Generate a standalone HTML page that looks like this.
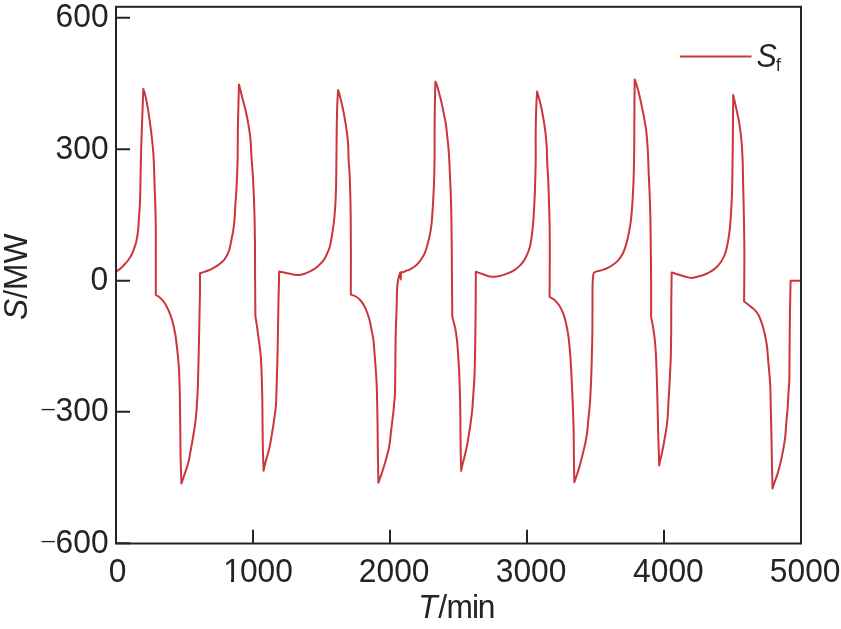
<!DOCTYPE html>
<html><head><meta charset="utf-8"><title>S/MW vs T/min</title>
<style>
html,body{margin:0;padding:0;background:#fff;}
body{width:841px;height:629px;overflow:hidden;position:relative;}
svg{position:absolute;left:0;top:0;will-change:transform;}
text{font-family:"Liberation Sans",Arial,sans-serif;font-size:32px;fill:#272324;}
.it{font-style:italic;}
.sub{font-size:18px;}
.neg{font-family:"DejaVu Sans",sans-serif;font-weight:200;font-size:33px;}
</style></head><body>
<svg width="841" height="629" viewBox="0 0 841 629">
<g id="curve" fill="none" stroke="#cc3539" stroke-width="2" stroke-linejoin="round" stroke-linecap="round">
<path d="M116.5,271.4C117.83,270.43,119.2,269.62,120.5,268.5C121.91,267.28,123.35,265.63,124.6,264.3C125.69,263.14,126.66,262.18,127.6,261C128.57,259.78,129.48,258.48,130.3,257.1C131.15,255.66,131.9,254.11,132.6,252.5C133.34,250.79,133.99,248.88,134.6,247.1C135.19,245.38,135.75,243.8,136.2,242C136.7,240.02,137.06,237.91,137.4,235.7C137.77,233.27,138.06,230.7,138.3,228C138.57,225.03,138.67,222.06,138.9,218.6C139.19,214.33,139.67,209.07,139.9,204.3C140.13,199.54,140.2,194.34,140.3,190C140.39,186.37,140.43,183.34,140.5,180C140.57,176.64,140.62,173.77,140.7,169.9C140.81,164.66,140.93,157.57,141.1,151.4C141.27,145.23,141.47,139.49,141.7,132.9C141.96,125.35,142.32,116.28,142.6,108.6C142.85,101.69,143.07,95.47,143.3,88.9C143.87,90.7,144.42,92.05,145,94.3C145.93,97.91,147.07,103.82,147.9,108.6C148.73,113.36,149.33,117.92,150,122.9C150.73,128.34,151.5,134.29,152.1,140C152.7,145.69,153.21,150.63,153.6,157.1C154.11,165.55,154.28,177.39,154.6,186.4C154.88,194.12,155.2,200.74,155.4,207.9C155.6,215.04,155.73,221.84,155.8,229.3C155.88,237.47,155.8,245.49,155.8,255C155.8,266.86,155.8,281.67,155.8,295C157,295.73,158.27,296.31,159.4,297.2C160.61,298.15,161.76,299.39,162.8,300.6C163.83,301.8,164.73,302.97,165.6,304.4C166.59,306.03,167.37,307.73,168.3,309.9C169.58,312.87,171.16,316.8,172.3,320.7C173.58,325.09,174.61,330.36,175.4,335C176.14,339.34,176.49,343.23,177,347.7C177.57,352.7,178.2,358.29,178.6,363.6C179,368.9,179.19,373.86,179.4,379.5C179.64,385.9,179.76,392.6,179.9,400C180.07,408.74,180.18,419.08,180.3,428.6C180.42,438.08,180.41,447.7,180.6,457C180.78,465.99,181.13,474.67,181.4,483.5C181.83,482.33,182.23,481.33,182.7,480C183.31,478.25,184.01,475.97,184.7,473.9C185.41,471.74,186.21,469.54,186.9,467.3C187.61,465.01,188.35,462.67,188.9,460.3C189.45,457.91,189.76,455.41,190.2,453C190.63,450.64,191.08,448.33,191.5,446C191.91,443.69,192.28,441.56,192.7,439.1C193.18,436.28,193.73,433.03,194.2,430C194.66,426.99,195.12,424.22,195.5,421C195.94,417.29,196.3,412.92,196.6,409C196.89,405.26,197.09,401.82,197.3,398C197.53,393.85,197.73,389.76,197.9,385C198.11,379.22,198.22,372.93,198.4,365.8C198.62,356.85,198.89,345.16,199.1,335.5C199.29,326.63,199.44,317.98,199.6,310C199.74,302.93,199.94,296.37,200,290C200.06,284.18,200,278.87,200,273.3C201.67,272.73,203.35,272.19,205,271.6C206.62,271.02,208.23,270.49,209.8,269.8C211.4,269.1,212.95,268.32,214.5,267.4C216.12,266.43,217.74,265.33,219.3,264.1C220.94,262.81,222.74,261.42,224.1,259.8C225.44,258.21,226.51,256.25,227.4,254.5C228.2,252.92,228.72,251.68,229.3,249.8C230.11,247.16,230.74,243.29,231.4,240C232.07,236.69,232.78,233.45,233.3,230C233.86,226.33,234.26,222.62,234.6,218.6C234.98,214.11,235.1,209.07,235.4,204.3C235.7,199.53,236.12,194.83,236.4,190C236.69,185.06,236.9,180,237.1,175C237.3,170,237.47,165.97,237.6,160C237.79,151.14,237.72,137.59,237.9,127C238.07,117.18,238.39,106.44,238.6,98.6C238.75,93.05,238.87,89.13,239,84.4C240.17,89.13,241.36,94.13,242.5,98.6C243.52,102.61,244.56,105.97,245.5,110C246.54,114.48,247.58,119.52,248.4,124.3C249.21,129.05,249.89,133.52,250.4,138.6C250.97,144.34,251.09,150.79,251.5,157C251.92,163.38,252.51,169.76,252.9,176.4C253.31,183.38,253.62,190.74,253.9,197.9C254.18,205.04,254.42,211.85,254.6,219.3C254.8,227.45,254.92,235.71,255,244.9C255.1,255.63,255.03,268.03,255.1,279.8C255.17,291.86,255.3,304.2,255.4,316.4C255.83,319.07,256.24,321.29,256.7,324.4C257.34,328.74,258.13,334.81,258.8,340C259.46,345.15,260.19,349.11,260.7,355.4C261.5,365.26,261.88,381.06,262.2,393.5C262.5,405.44,262.47,418.34,262.6,428.6C262.7,436.61,262.73,442.93,262.9,450C263.07,456.96,263.37,463.8,263.6,470.7C264.3,467.6,264.96,464.31,265.7,461.4C266.37,458.78,267.14,456.43,267.8,454C268.44,451.66,269.01,449.82,269.6,447.1C270.44,443.23,271.32,437.65,272.1,432.9C272.88,428.15,273.65,423.37,274.3,418.6C274.95,413.84,275.65,408.74,276,404.3C276.3,400.45,276.25,398.2,276.4,393.5C276.69,384.68,277.22,366.82,277.5,355.4C277.73,346.08,277.84,338.82,278,330C278.17,320.42,278.3,309.87,278.5,300C278.7,290.38,278.97,281,279.2,271.5C281.5,271.97,283.82,272.4,286.1,272.9C288.35,273.4,290.66,274.13,292.8,274.5C294.74,274.83,296.55,275.18,298.4,275.1C300.25,275.02,302.01,274.58,303.9,274C306.05,273.34,308.42,272.37,310.6,271.2C312.9,269.96,315.24,268.38,317.3,266.7C319.33,265.04,321.33,263.24,322.9,261.2C324.46,259.17,325.59,256.77,326.7,254.5C327.78,252.3,328.76,250.15,329.5,247.8C330.28,245.33,330.7,242.69,331.2,240C331.74,237.14,332.18,233.87,332.6,231.1C332.97,228.68,333.27,226.99,333.6,224.3C334.08,220.41,334.62,215.25,335,210C335.46,203.59,335.77,196.12,336,188.6C336.26,180.22,336.29,171.13,336.4,162C336.52,152.32,336.55,141.95,336.7,132.1C336.85,122.49,336.99,111.34,337.3,103.6C337.51,98.27,337.83,94.6,338.1,90.1C339.1,93.63,340.16,96.89,341.1,100.7C342.18,105.09,343.2,110.22,344.1,115C345,119.76,345.83,124.52,346.5,129.3C347.16,134.06,347.75,138.66,348.1,143.6C348.47,148.87,348.34,154.72,348.6,160C348.85,164.93,349.33,169.05,349.6,174.3C349.93,180.71,350.12,188.57,350.3,195.7C350.48,202.83,350.6,209.2,350.7,217.1C350.82,226.89,350.88,238.2,350.9,250C350.93,263.74,350.83,279.73,350.8,294.6C352.5,295.23,354.3,295.57,355.9,296.5C357.61,297.49,359.23,298.79,360.7,300.5C362.49,302.58,364.11,305.46,365.5,308.4C367.07,311.73,368.37,315.88,369.4,319.6C370.39,323.17,370.92,326.82,371.6,330.3C372.25,333.61,372.91,336.38,373.4,340C374.01,344.53,374.25,349.62,374.7,355.4C375.28,362.83,376.1,373.01,376.5,380.9C376.85,387.72,376.93,392.99,377.1,400C377.31,408.57,377.47,419.07,377.6,428.6C377.73,438.11,377.76,447.85,377.9,457.1C378.03,465.89,378.23,474.23,378.4,482.8C378.97,481.17,379.48,479.69,380.1,477.9C380.85,475.73,381.77,473.26,382.6,470.7C383.54,467.81,384.48,464.62,385.4,461.4C386.38,457.96,387.53,454.1,388.3,450.7C388.99,447.67,389.45,445.1,389.9,442C390.41,438.49,390.68,434.3,391.1,430.7C391.48,427.39,391.91,424.43,392.3,421.2C392.71,417.84,393.17,414.12,393.5,410.9C393.79,408.07,393.97,405.56,394.2,402.9C394.43,400.26,394.72,398.42,394.9,395C395.23,388.7,395.16,377.85,395.3,368.1C395.46,356.5,395.53,340.41,395.8,330C395.99,322.76,396.33,317.03,396.5,311.6C396.64,307.29,396.69,303.96,396.8,300C396.92,295.84,396.87,291.04,397.2,287.2C397.47,284.04,397.85,281.19,398.4,278.6C398.86,276.4,399.53,274.6,400.1,272.6C400.33,274.9,400.63,279.5,400.8,279.5C400.97,279.49,401,274.7,401.1,272.3C401.93,272.2,402.79,272.25,403.6,272C404.46,271.74,405.25,271.04,406.1,270.7C406.92,270.38,407.74,270.34,408.6,270C409.6,269.61,410.8,268.91,411.7,268.4C412.42,267.99,412.87,267.72,413.6,267.2C414.69,266.41,416.25,265.27,417.5,264C418.93,262.54,420.36,260.69,421.6,258.8C422.91,256.81,424.11,254.69,425.1,252.3C426.22,249.62,426.98,246.47,427.8,243.4C428.66,240.18,429.47,236.65,430.1,233.4C430.69,230.36,431.09,228.05,431.5,224.5C432.1,219.27,432.49,211.65,432.9,205C433.33,198.03,433.72,191.25,434,183.6C434.32,174.76,434.5,164.47,434.6,155C434.7,145.64,434.53,136.45,434.6,127.1C434.67,117.65,434.84,106.89,435,98.6C435.12,92.18,435.27,87.2,435.4,81.5C436,82.93,436.62,84.07,437.2,85.8C438.03,88.27,438.81,91.9,439.6,95C440.41,98.16,441.28,101.4,442,104.6C442.71,107.77,443.27,110.93,443.9,114.1C444.53,117.27,445.27,120.22,445.8,123.6C446.4,127.42,446.76,131.9,447.2,135.9C447.62,139.72,448.08,143.48,448.4,147.1C448.7,150.5,448.87,153.15,449.1,157C449.42,162.39,449.71,169.77,450,176.4C450.31,183.38,450.67,190.74,450.9,197.9C451.13,205.04,451.27,211.85,451.4,219.3C451.54,227.45,451.62,236.26,451.7,244.9C451.78,253.76,451.82,261.71,451.9,271.8C452.01,284.8,452.17,301.53,452.3,316.4C452.8,318.43,453.3,320.47,453.8,322.5C454.3,324.53,454.84,326.25,455.3,328.6C455.91,331.74,456.46,335.86,456.9,339.7C457.37,343.81,457.67,348,458,352.5C458.37,357.51,458.73,363.1,459,368.4C459.27,373.7,459.42,379.02,459.6,384.3C459.78,389.55,459.97,394.45,460.1,400C460.25,406.26,460.32,412.83,460.4,420C460.49,428.35,460.46,438.36,460.6,447.1C460.73,455.29,461,462.97,461.2,470.9C461.5,469.37,461.7,468.07,462.1,466.3C462.65,463.85,463.55,460.7,464.3,457.6C465.15,454.06,466.12,450.14,466.9,446.2C467.73,442,468.42,437.38,469.1,433.1C469.75,428.99,470.36,425,470.9,421C471.43,417.07,471.92,413.32,472.3,409.3C472.7,405.06,472.9,400.57,473.2,396.2C473.5,391.83,473.85,387.47,474.1,383.1C474.35,378.73,474.53,375.07,474.7,370C474.93,363,475.07,353.33,475.2,345C475.33,336.67,475.41,327.87,475.5,320C475.58,312.96,475.65,307.24,475.7,300C475.76,291.41,475.77,281.2,475.8,271.8C478.23,272.63,480.83,273.53,483.1,274.3C485.09,274.98,486.81,275.78,488.7,276.2C490.54,276.61,492.36,276.87,494.3,276.8C496.42,276.72,498.71,276.16,500.9,275.6C503.14,275.03,505.4,274.3,507.6,273.4C509.87,272.48,512.23,271.42,514.3,270.1C516.33,268.81,518.23,267.28,519.9,265.6C521.56,263.94,523.03,262.1,524.3,260.1C525.61,258.04,526.66,255.66,527.6,253.4C528.52,251.2,529.27,249.12,529.9,246.7C530.61,243.97,531.05,240.77,531.5,237.8C531.95,234.84,532.28,231.87,532.6,228.9C532.92,225.94,533.17,223.05,533.4,220C533.64,216.77,533.79,213.96,534,210C534.31,204.21,534.73,196.25,535,188.6C535.31,179.76,535.58,169.47,535.7,160C535.81,150.64,535.59,141.45,535.7,132.1C535.82,122.65,536.09,111.09,536.4,103.6C536.6,98.71,536.87,95.53,537.1,91.5C538.2,95.53,539.4,99.38,540.4,103.6C541.48,108.15,542.46,113.13,543.3,117.9C544.13,122.63,544.83,127.35,545.4,132.1C545.97,136.85,546.4,141.53,546.7,146.4C547.01,151.48,546.96,156.52,547.2,162C547.47,168.12,548,174.77,548.3,181.4C548.61,188.38,548.78,195.74,549,202.9C549.22,210.04,549.47,216.84,549.6,224.3C549.75,232.47,549.78,240.15,549.8,250C549.82,263.32,549.67,281.33,549.6,297C551.17,297.9,552.82,298.48,554.3,299.7C556.02,301.13,557.68,303.18,559.1,305.3C560.65,307.63,561.95,310.28,563.1,313.2C564.41,316.55,565.43,320.65,566.3,324.4C567.16,328.09,567.7,331.25,568.3,335.5C569.09,341.16,569.71,347.69,570.3,355.4C571.11,366.07,571.74,381.14,572.3,393.6C572.83,405.52,573.34,417.53,573.6,428.6C573.84,438.59,573.78,447.9,573.9,457.1C574.01,465.73,574.17,473.83,574.3,482.2C574.9,480.53,575.44,479.14,576.1,477.2C577.01,474.52,578.22,470.95,579.2,467.6C580.26,463.98,581.22,460.14,582.2,456.2C583.25,451.99,584.44,447.3,585.3,443.1C586.08,439.26,586.68,435.93,587.2,432C587.78,427.59,588.05,422.62,588.5,417.9C588.95,413.15,589.53,408.37,589.9,403.6C590.27,398.84,590.47,394.07,590.7,389.3C590.93,384.53,591.11,380.43,591.3,375C591.55,367.82,591.81,357.87,592,350C592.17,342.96,592.31,337.34,592.4,330C592.5,321.01,592.42,308.99,592.5,300C592.57,292.66,592.38,284.97,592.8,280C593.05,277.02,592.91,274.3,593.9,272.9C594.56,271.97,595.58,271.82,596.7,271.4C598.2,270.83,600.38,270.67,602.2,270.1C604.08,269.51,605.97,268.81,607.8,267.9C609.71,266.95,611.64,265.79,613.4,264.5C615.17,263.2,616.92,261.75,618.4,260.1C619.89,258.43,621.19,256.51,622.3,254.5C623.44,252.42,624.28,250.14,625.1,247.8C625.96,245.32,626.65,242.61,627.3,240C627.95,237.41,628.5,234.8,629,232.2C629.5,229.63,629.93,226.9,630.3,224.5C630.62,222.41,630.83,221.12,631.1,218.6C631.58,214.14,632.19,206.42,632.6,200C633.04,193.12,633.34,186.25,633.6,178.6C633.9,169.76,634.09,158.76,634.2,150C634.3,142.54,634.26,136.76,634.3,129.3C634.35,120.54,634.43,109.53,634.5,100.7C634.56,93.08,634.63,86.5,634.7,79.4C635.9,83.17,637.24,86.78,638.3,90.7C639.42,94.83,640.26,99.18,641.2,103.6C642.19,108.24,643.25,113.26,644.1,117.9C644.9,122.28,645.61,125.88,646.2,130.7C646.95,136.89,647.5,145.06,647.9,152C648.28,158.61,648.33,164.77,648.6,171.4C648.89,178.38,649.32,185.74,649.6,192.9C649.88,200.04,650.12,206.85,650.3,214.3C650.5,222.45,650.58,230.27,650.7,239.9C650.86,252.36,651.04,269.31,651.1,282.8C651.16,294.85,651.1,305.6,651.1,317C651.57,319.33,652.06,321.6,652.5,324C652.96,326.53,653.41,329.02,653.8,331.8C654.25,334.97,654.67,338.57,655,342C655.34,345.47,655.56,348.48,655.8,352.5C656.12,357.9,656.36,364.83,656.6,371.5C656.87,378.92,657.09,387.05,657.3,395C657.52,403.2,657.72,412.46,657.9,420C658.05,426.24,658.14,431.6,658.3,437.1C658.45,442.24,658.65,447.16,658.8,452C658.95,456.61,659.07,461,659.2,465.5C659.53,463.8,659.8,462.28,660.2,460.4C660.7,458.07,661.4,455.45,662,452.6C662.73,449.17,663.49,445.14,664.2,441.2C664.96,436.99,665.81,432.19,666.4,428.1C666.91,424.52,667.28,421.71,667.6,418C667.99,413.48,668.11,407.86,668.4,402.9C668.68,398.07,669.03,393.37,669.3,388.6C669.57,383.83,669.77,379.07,670,374.3C670.23,369.53,670.52,365.17,670.7,360C670.91,353.89,671.02,345.52,671.1,340C671.16,336.09,671.17,334.23,671.2,330C671.25,322.68,671.21,309.79,671.3,300C671.38,290.61,671.57,281.6,671.7,272.4C674.17,273.2,676.69,274.05,679.1,274.8C681.38,275.51,683.65,276.27,685.8,276.8C687.74,277.28,689.46,277.91,691.4,277.9C693.51,277.88,695.8,277.06,698,276.5C700.24,275.93,702.5,275.36,704.7,274.5C706.97,273.61,709.33,272.52,711.4,271.2C713.43,269.91,715.33,268.38,717,266.7C718.66,265.04,720.12,263.2,721.4,261.2C722.73,259.14,723.88,256.87,724.8,254.5C725.76,252.04,726.38,249.4,727,246.7C727.66,243.85,728.13,240.77,728.6,237.8C729.07,234.84,729.45,232.2,729.8,228.9C730.24,224.79,730.56,220.13,730.9,215C731.32,208.64,731.74,201.25,732,193.6C732.3,184.76,732.36,173.8,732.5,165C732.62,157.46,732.72,151.33,732.8,144C732.89,135.94,732.93,126.91,733,118.6C733.07,110.59,733.13,102.87,733.2,95C734.23,99.53,735.31,104,736.3,108.6C737.31,113.3,738.37,117.9,739.2,122.9C740.1,128.33,740.84,134.07,741.4,140C742,146.4,742.31,152.87,742.6,160C742.94,168.19,743.01,178.05,743.2,186.4C743.37,193.93,743.55,200.74,743.7,207.9C743.85,215.04,743.99,221.85,744.1,229.3C744.22,237.45,744.37,245.1,744.4,254.9C744.43,268.12,744.2,285.97,744.1,301.5C745.83,302.83,747.61,304.16,749.3,305.5C750.94,306.8,752.64,307.95,754.1,309.4C755.57,310.85,756.96,312.34,758.1,314.2C759.38,316.28,760.24,318.71,761.2,321.4C762.37,324.67,763.48,328.67,764.4,332.5C765.36,336.52,766.18,340.6,766.8,345C767.48,349.85,767.7,354.62,768.2,360.4C768.84,367.83,769.89,378.01,770.3,385.9C770.65,392.72,770.54,397.99,770.7,405C770.89,413.57,771.2,424.07,771.4,433.6C771.6,443.11,771.71,452.77,771.9,462.1C772.08,471.09,772.3,479.77,772.5,488.6C773.1,486.73,773.6,485.09,774.3,483C775.2,480.33,776.49,477.15,777.5,473.9C778.64,470.24,779.74,466.18,780.7,462.1C781.72,457.77,782.63,452.94,783.4,448.6C784.11,444.59,784.73,441.06,785.2,437C785.72,432.54,785.9,427.62,786.3,422.9C786.7,418.15,787.25,413.37,787.6,408.6C787.95,403.84,788.12,399.07,788.4,394.3C788.68,389.53,789.11,385.17,789.3,380C789.52,373.89,789.44,367.04,789.5,360C789.57,352.13,789.62,343.33,789.7,335C789.78,326.67,789.86,318.66,790,310C790.15,300.64,790.4,290.53,790.6,280.8L800,280.8"/>
</g>
<g id="frame" stroke="#272324" stroke-width="2" fill="none">
<rect x="116" y="6.8" width="685" height="536.7"/>
<path d="M116,17.8h14M116,149.2h14M116,280.7h14M116,411.8h14M116,543.3h14"/>
<path d="M253,543.3v-13.5M390,543.3v-13.5M527,543.3v-13.5M664,543.3v-13.5M801,543.3v-13.5"/>
</g>
<g id="ylab">
<text text-anchor="end" transform="translate(108.6,27.45) scale(0.993,1.025)">600</text>
<text text-anchor="end" transform="translate(108.6,158.75) scale(0.993,1.025)">300</text>
<text text-anchor="end" transform="translate(108.1,290.1) scale(0.993,1.025)">0</text>
<text text-anchor="end" transform="translate(108.6,421.3) scale(0.993,1.025)"><tspan class="neg" dy="-2.3">–</tspan><tspan dx="-0.7" dy="2.3">300</tspan></text>
<text text-anchor="end" transform="translate(108.6,553.1) scale(0.993,1.025)"><tspan class="neg" dy="-2.3">–</tspan><tspan dx="-0.7" dy="2.3">600</tspan></text>

</g>
<g id="xlab">
<text text-anchor="middle" transform="translate(117.5,581.8) scale(0.993,1.025)">0</text>
<text text-anchor="middle" transform="translate(394.2,581.8) scale(0.993,1.025)">2000</text>
<text text-anchor="middle" transform="translate(531.1,581.8) scale(0.993,1.025)">3000</text>
<text text-anchor="middle" transform="translate(668.4,581.8) scale(0.993,1.025)">4000</text>
<text text-anchor="middle" transform="translate(805.2,581.8) scale(0.993,1.025)">5000</text>
<clipPath id="c1clip"><rect x="200" y="540" width="120" height="38.6"/><rect x="231" y="540" width="3" height="50"/><rect x="240.3" y="540" width="80" height="50"/></clipPath><g clip-path="url(#c1clip)"><text transform="translate(0,581.8) scale(0.993,1.025)"><tspan x="224.77">1</tspan><tspan x="241.59">000</tspan></text></g>
</g>
<text transform="translate(0,617.6) scale(0.993,1.025)"><tspan class="it" x="421.25">T</tspan><tspan x="441.39">/</tspan><tspan x="449.65">m</tspan><tspan x="475.33">i</tspan><tspan x="481.07">n</tspan></text>
<text transform="translate(27,320) rotate(-90) scale(0.993,1.025)"><tspan class="it">S</tspan>/MW</text>
<path d="M680,56.4H751.5" stroke="#cc3539" stroke-width="2"/>
<text transform="translate(756.6,67) scale(0.95,1.04)"><tspan class="it">S</tspan><tspan class="sub" x="20.32" dy="3.46">f</tspan></text>
</svg>
</body></html>
